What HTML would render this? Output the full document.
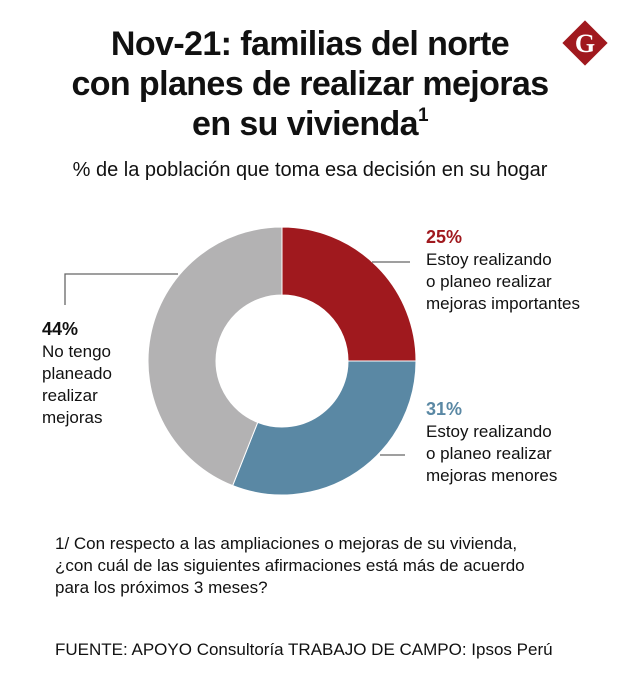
<!DOCTYPE html>
<html><head><meta charset="utf-8"><style>
body{margin:0;width:620px;height:689px;background:#fff;font-family:"Liberation Sans",sans-serif;color:#111;position:relative;overflow:hidden}
.t{position:absolute;white-space:nowrap}
#title{left:0;width:620px;top:24px;text-align:center;font-weight:bold;font-size:34px;line-height:40px;letter-spacing:-0.6px}
#title sup{font-size:19px;line-height:0;vertical-align:0;position:relative;top:-14px}
#sub{left:0;width:620px;top:159px;text-align:center;font-size:20px}
.lab{font-size:17px;line-height:22px}
.pct{font-weight:bold;font-size:18px}
</style></head><body>
<div id="title" class="t">Nov-21: familias del norte<br>con planes de realizar mejoras<br>en su vivienda<sup>1</sup></div>
<div id="sub" class="t">% de la población que toma esa decisión en su hogar</div>
<svg width="620" height="689" style="position:absolute;left:0;top:0">
<g transform="translate(585,43) rotate(45)"><rect x="-16" y="-16" width="32" height="32" fill="#a0191e"/></g>
<text x="585" y="52" text-anchor="middle" fill="#fff" font-family="Liberation Serif" font-weight="bold" font-size="26">G</text>
<g id="donut"></g>
<polyline points="65,305 65,274 178,274" fill="none" stroke="#666" stroke-width="1.3"/>
<line x1="372" y1="262" x2="410" y2="262" stroke="#666" stroke-width="1.3"/>
<line x1="380" y1="455" x2="405" y2="455" stroke="#666" stroke-width="1.3"/>
</svg>
<div class="t lab" style="left:426px;top:226px"><span class="pct" style="color:#a0191e">25%</span><br>Estoy realizando<br>o planeo realizar<br>mejoras importantes</div>
<div class="t lab" style="left:426px;top:398px"><span class="pct" style="color:#5a88a4">31%</span><br>Estoy realizando<br>o planeo realizar<br>mejoras menores</div>
<div class="t lab" style="left:42px;top:318px"><span class="pct">44%</span><br>No tengo<br>planeado<br>realizar<br>mejoras</div>
<div class="t" style="left:55px;top:533px;font-size:17px;line-height:22px">1/ Con respecto a las ampliaciones o mejoras de su vivienda,<br>¿con cuál de las siguientes afirmaciones está más de acuerdo<br>para los próximos 3 meses?</div>
<div class="t" style="left:55px;top:640px;font-size:17px">FUENTE: APOYO Consultoría TRABAJO DE CAMPO: Ipsos Perú</div>
<script>
const categories=["Mejoras importantes","Mejoras menores","No tengo planeado"];
const values=[25,31,44];
const colors=["#a0191e","#5a88a4","#b3b2b3"];
const g=document.getElementById('donut');
const cx=282,cy=361,R=134,r=66;
const total=values.reduce((a,b)=>a+b,0);
let a0=0;
function pt(rad,a){return [cx+rad*Math.sin(a),cy-rad*Math.cos(a)];}
values.forEach((v,i)=>{
  const a1=a0+v/total*2*Math.PI;
  const big=(a1-a0)>Math.PI?1:0;
  const p1=pt(R,a0),p2=pt(R,a1),p3=pt(r,a1),p4=pt(r,a0);
  const p=document.createElementNS('http://www.w3.org/2000/svg','path');
  p.setAttribute('d',`M${p1} A${R},${R} 0 ${big} 1 ${p2} L${p3} A${r},${r} 0 ${big} 0 ${p4} Z`);
  p.setAttribute('fill',colors[i]);
  p.setAttribute('stroke','#fff');
  p.setAttribute('stroke-width','1');
  
  
  g.appendChild(p);
  a0=a1;
});
</script>
</body></html>
